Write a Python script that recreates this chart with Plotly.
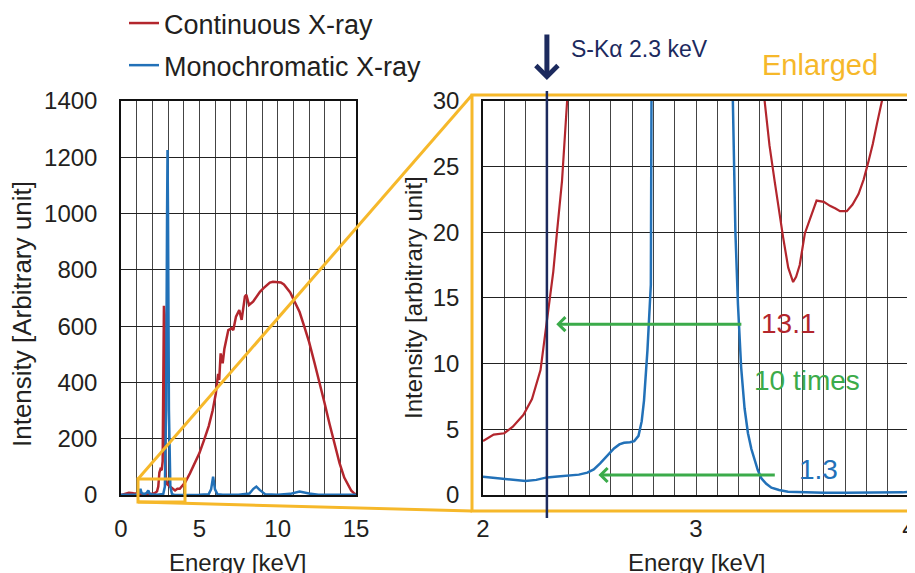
import plotly.graph_objects as go

W, H = 915, 573
OFF = 8  # page body margin of the browser (figure is drawn 8px in from the window corner)
FW, FH = W - OFF, H - OFF  # figure fills the window exactly, no overflow

# ---------------- data: overview (0-15 keV) ----------------
cont_energy = [0.0, 0.2, 0.5, 0.8, 1.2, 1.6, 2.0, 2.2, 2.3, 2.38, 2.45, 2.52, 2.6, 2.66, 2.7,
               2.74, 2.78, 2.82, 2.86, 2.95, 3.1, 3.3, 3.45, 3.6, 3.75, 3.9, 4.1, 4.4, 4.7,
               5.0, 5.3, 5.6, 5.85, 6.05, 6.2, 6.27, 6.36, 6.49, 6.6, 6.85, 7.06, 7.17, 7.34,
               7.55, 7.7, 7.91, 8.0, 8.17, 8.43, 8.66, 8.87, 9.1, 9.3, 9.5, 9.7, 9.95, 10.2,
               10.4, 10.6, 10.8, 11.1, 11.4, 11.7, 12.0, 12.35, 12.7, 13.0, 13.3, 13.6, 13.95,
               14.25, 14.5, 14.7, 14.9, 15.0]
cont_int = [0, 3, 8, 6, 4, 3, 4, 8, 13, 30, 80, 92, 88, 120, 400,
            672, 640, 200, 60, 38, 32, 25, 16, 22, 22, 32, 45, 77, 110,
            148, 195, 245, 300, 360, 430, 409, 503, 468, 520, 586, 592, 586, 634,
            657, 622, 705, 711, 675, 687, 707, 722, 735, 746, 755, 758, 757, 755,
            748, 735, 720, 685, 650, 598, 545, 470, 395, 325, 255, 185, 113,
            62, 34, 15, 5, 2]

mono_energy = [0.0, 0.5, 1.0, 1.15, 1.24, 1.32, 1.5, 1.65, 1.74, 1.82, 2.0, 2.3, 2.5, 2.7,
               2.8, 2.88, 2.94, 2.97, 3.0, 3.06, 3.15, 3.25, 3.4, 4.0, 5.0, 5.6, 5.75, 5.88,
               6.0, 6.15, 6.5, 7.5, 8.2, 8.45, 8.64, 8.85, 9.2, 10.0, 10.8, 11.4, 12.0,
               12.6, 15.0]
mono_int = [1, 1, 2, 8, 22, 6, 3, 8, 16, 5, 1.4, 1.3, 2, 4,
            30, 300, 1000, 1226, 1000, 300, 30, 4, 0.3, 0.3, 0.5, 3, 20, 65,
            20, 3, 1, 1, 5, 22, 30, 18, 3, 1, 4, 12, 5,
            1, 0.5]

# ---------------- data: enlarged (2-4 keV) ----------------
cont_energy_zoom = [2.0, 2.05, 2.1, 2.14, 2.19, 2.23, 2.27, 2.3, 2.33, 2.348, 2.371, 2.395, 2.42,
                    2.6, 2.74, 2.9, 3.1, 3.3, 3.322, 3.345, 3.369, 3.39, 3.409, 3.433, 3.456,
                    3.47, 3.487, 3.511, 3.542, 3.566, 3.6, 3.629, 3.655, 3.676, 3.708, 3.735,
                    3.763, 3.787, 3.81, 3.83, 3.849, 3.876, 3.9]
cont_int_zoom = [4.1, 4.6, 4.7, 5.2, 6.1, 7.3, 9.5, 13.1, 17.0, 20.1, 23.9, 30, 40,
                 90, 670, 60, 40, 40, 30, 26.6, 23.9, 21.6, 19.6, 17.3, 16.2,
                 16.6, 17.5, 19.9, 21.4, 22.4, 22.3, 22.0, 21.8, 21.6, 21.6, 22.1,
                 22.9, 24.0, 25.4, 26.7, 28.2, 30, 32]

mono_energy_zoom = [2.0, 2.05, 2.1, 2.15, 2.2, 2.25, 2.3, 2.35, 2.41, 2.45, 2.49, 2.52, 2.55,
                    2.58, 2.615, 2.64, 2.662, 2.69, 2.71, 2.73, 2.745, 2.756, 2.772, 2.788,
                    2.796, 2.804, 2.82, 2.9, 3.0, 3.1, 3.16, 3.173, 3.185, 3.197, 3.212, 3.228,
                    3.244, 3.26, 3.275, 3.29, 3.307, 3.33, 3.354, 3.39, 3.432, 3.5, 3.6, 3.7,
                    3.8, 3.9, 3.97, 4.0]
mono_int_zoom = [1.39, 1.3, 1.19, 1.1, 1.06, 1.15, 1.34, 1.4, 1.47, 1.55, 1.7, 1.95, 2.4,
                 2.95, 3.54, 3.85, 3.97, 4.02, 4.1, 4.5, 5.6, 7.2, 11, 16,
                 23.9, 30, 60, 300, 1000, 300, 50, 30, 20, 14.5, 9.7, 6.6,
                 4.7, 3.5, 2.66, 1.9, 1.27, 0.85, 0.56, 0.38, 0.25, 0.2, 0.18, 0.18,
                 0.18, 0.18, 0.2, 0.25]

# annotation values
ska_energy = 2.3
cont_at_ska = 13.1
mono_at_ska = 1.3

RED = "#b3262d"
BLUE = "#2271b8"
ORANGE = "#f6b82a"
GREEN = "#3bab4a"
NAVY = "#1c2a5e"
TXT = "#231f20"
FONT = "Liberation Sans, Arial, Helvetica, sans-serif"


def px(x):
    return (x - OFF) / FW


def py(y):
    return 1 - (y - OFF) / FH


fig = go.Figure()
fig.add_trace(go.Scatter(x=cont_energy, y=cont_int, mode="lines", name="Continuous X-ray",
                         legendgroup="a",
                         line=dict(color=RED, width=2.5), xaxis="x", yaxis="y"))
fig.add_trace(go.Scatter(x=mono_energy, y=mono_int, mode="lines", name="Monochromatic X-ray",
                         legendgroup="b",
                         line=dict(color=BLUE, width=2.5), xaxis="x", yaxis="y"))
fig.add_trace(go.Scatter(x=cont_energy_zoom, y=cont_int_zoom, mode="lines", showlegend=False,
                         line=dict(color=RED, width=2.2), xaxis="x2", yaxis="y2"))
fig.add_trace(go.Scatter(x=mono_energy_zoom, y=mono_int_zoom, mode="lines", showlegend=False,
                         line=dict(color=BLUE, width=2.5), xaxis="x2", yaxis="y2"))

tickfont = dict(family=FONT, size=24, color=TXT)
common = dict(showline=True, linecolor="#111", linewidth=1.5, mirror=True, ticks="",
              tickfont=tickfont, zeroline=False, fixedrange=True, automargin=False,
              ticklabeloverflow="allow")

fig.update_layout(
    width=FW, height=FH,
    margin=dict(l=0, r=0, t=0, b=0, autoexpand=False),
    paper_bgcolor="white", plot_bgcolor="white",
    font=dict(family=FONT, color=TXT),
    xaxis=dict(domain=[px(121), px(356)], range=[0, 15], dtick=5, tick0=0,
               showgrid=True, gridcolor="#444", gridwidth=1,
               minor=dict(dtick=1, showgrid=True, gridcolor="#444", gridwidth=1),
               ticklabelstandoff=11, anchor="y", **common),
    yaxis=dict(domain=[py(495), py(101)], range=[0, 1400], dtick=200,
               showgrid=True, gridcolor="#222", gridwidth=1,
               ticklabelstandoff=17, anchor="x", **common),
    xaxis2=dict(domain=[px(483), px(909)], range=[2, 4], dtick=1, tick0=2,
                showgrid=True, gridcolor="#444", gridwidth=1,
                minor=dict(dtick=0.1, showgrid=True, gridcolor="#444", gridwidth=1),
                ticklabelstandoff=11, anchor="y2", **common),
    yaxis2=dict(domain=[py(495), py(100.7)], range=[0, 30], dtick=5,
                showgrid=True, gridcolor="#222", gridwidth=1,
                ticklabelstandoff=17, anchor="x2", **common),
    showlegend=True,
    legend=dict(x=px(124), y=py(-1), xanchor="left", yanchor="top",
                font=dict(family=FONT, size=27, color=TXT),
                bgcolor="rgba(0,0,0,0)", borderwidth=0, tracegroupgap=4),
)


def label(text, x, y, size, color, angle=0, xanchor="center"):
    fig.add_annotation(text=text, x=px(x), y=py(y), xref="paper", yref="paper",
                       xanchor=xanchor, yanchor="middle", textangle=angle,
                       showarrow=False, font=dict(family=FONT, size=size, color=color))


# Axis titles
label("Intensity [Arbitrary unit]", 22, 314, 26, TXT, angle=-90)
label("Intensity [arbitrary unit]", 413, 298, 24, TXT, angle=-90)
label("Energy [keV]", 238, 562, 24, TXT)
label("Energy [keV]", 696, 562, 24, TXT)

# Orange enlargement box and connectors
shapes = [
    dict(type="rect", xref="paper", yref="paper", x0=px(472), x1=px(912), y0=py(511), y1=py(95),
         line=dict(color=ORANGE, width=3)),
    dict(type="rect", xref="paper", yref="paper", x0=px(138), x1=px(185), y0=py(502), y1=py(479),
         line=dict(color=ORANGE, width=3)),
    dict(type="line", xref="paper", yref="paper", x0=px(138), y0=py(479), x1=px(472), y1=py(95),
         line=dict(color=ORANGE, width=3)),
    dict(type="line", xref="paper", yref="paper", x0=px(138), y0=py(502), x1=px(472), y1=py(511),
         line=dict(color=ORANGE, width=3)),
    dict(type="line", xref="x2", yref="paper", x0=ska_energy, x1=ska_energy, y0=py(518), y1=py(91),
         line=dict(color=NAVY, width=2.5)),
]
fig.update_layout(shapes=shapes)

# S-Ka arrow and label
fig.add_annotation(x=ska_energy, y=py(80), xref="x2", yref="paper", ax=0, ay=-47,
                   text="", showarrow=True, arrowhead=4, arrowsize=0.85, arrowwidth=5,
                   arrowcolor=NAVY)
label("S-K\u03b1 2.3 keV", 569, 49, 23, NAVY, xanchor="left")
label("Enlarged", 820, 65, 29, ORANGE)

# Green arrows
fig.add_annotation(x=2.344, y=cont_at_ska - 0.1, ax=3.22, ay=cont_at_ska - 0.1, xref="x2", yref="y2",
                   axref="x2", ayref="y2", text="", showarrow=True, arrowhead=4,
                   arrowsize=0.9, arrowwidth=3, arrowcolor=GREEN)
fig.add_annotation(x=2.542, y=1.52, ax=3.377, ay=1.52, xref="x2", yref="y2",
                   axref="x2", ayref="y2", text="", showarrow=True, arrowhead=4,
                   arrowsize=0.9, arrowwidth=3, arrowcolor=GREEN)

label(str(cont_at_ska), 788, 323, 28, RED)
label("10 times", 807, 380, 28, GREEN)
label(str(mono_at_ska), 818, 469, 28, BLUE)

fig.write_html("out.html")
